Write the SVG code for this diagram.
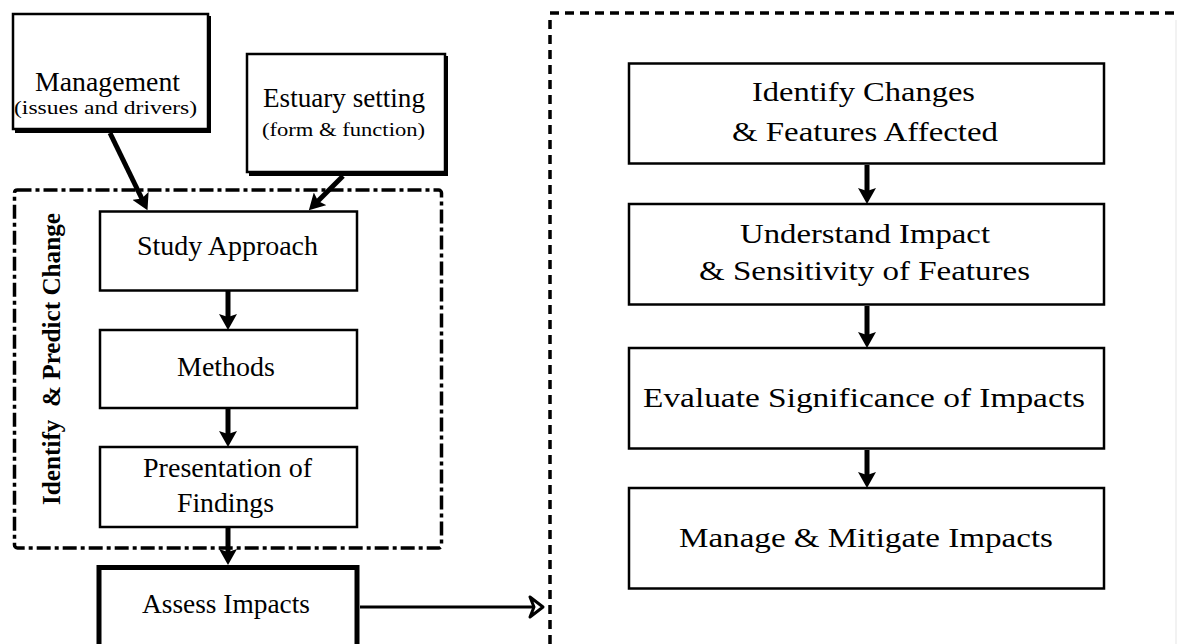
<svg xmlns="http://www.w3.org/2000/svg" width="1177" height="644" viewBox="0 0 1177 644">
<style>
.box{fill:#fff;stroke:#000;stroke-width:2.5}
.shadow{fill:none;stroke:#000;stroke-width:4}
.t{font-family:"Liberation Serif","Times New Roman",serif;font-size:27px;fill:#000;text-anchor:middle}
.s{font-size:18px}
.lbl{font-family:"Liberation Serif","Times New Roman",serif;font-weight:bold;font-size:26px;fill:#000;text-anchor:middle;white-space:pre}
.conn{fill:none;stroke:#000;stroke-width:5}
</style>
<defs>
<marker id="ah" viewBox="0 0 16 18" refX="8" refY="9" markerWidth="16" markerHeight="18" orient="auto" markerUnits="userSpaceOnUse">
<path d="M0,0 L16,9 L0,18 L3,9 z" fill="#000"/>
</marker>
</defs>
<rect width="1177" height="644" fill="#fff"/>

<g id="container-identify">
<rect x="14.5" y="190" width="427" height="358" rx="3" fill="none" stroke="#000" stroke-width="3.5" stroke-dasharray="14 4 4 4"/>
<text class="lbl" transform="translate(60,359) rotate(-90)" textLength="292" lengthAdjust="spacingAndGlyphs">Identify  &amp; Predict Change</text>
</g>

<g id="container-assess">
<path d="M550,13 H1177 M550,20 V644" fill="none" stroke="#000" stroke-width="3.5" stroke-dasharray="9 6"/>
<path d="M1176,20 V644" fill="none" stroke="#eeeeee" stroke-width="1.5"/>
</g>

<g id="node-management">
<rect class="box" x="13" y="14" width="195" height="115"/>
<path class="shadow" d="M209,16 V131 H15"/>
<text class="t" x="107.5" y="91" textLength="145" lengthAdjust="spacingAndGlyphs">Management</text>
<text class="t s" x="105.5" y="114" textLength="183" lengthAdjust="spacingAndGlyphs">(issues and drivers)</text>
</g>

<g id="node-estuary">
<rect class="box" x="247" y="54" width="198" height="118"/>
<path class="shadow" d="M446,56 V174 H249"/>
<text class="t" x="344" y="107" textLength="162" lengthAdjust="spacingAndGlyphs">Estuary setting</text>
<text class="t s" x="343.5" y="136" font-size="20" textLength="163" lengthAdjust="spacingAndGlyphs">(form &amp; function)</text>
</g>

<g id="node-study">
<rect class="box" x="100" y="211.5" width="257" height="79"/>
<text class="t" x="227.5" y="255" textLength="181" lengthAdjust="spacingAndGlyphs">Study Approach</text>
</g>

<g id="node-methods">
<rect class="box" x="100" y="330" width="257" height="78"/>
<text class="t" x="226" y="376" textLength="98" lengthAdjust="spacingAndGlyphs">Methods</text>
</g>

<g id="node-presentation">
<rect class="box" x="100" y="447" width="257" height="80"/>
<text class="t" x="227.5" y="477" textLength="169" lengthAdjust="spacingAndGlyphs">Presentation of</text>
<text class="t" x="225.5" y="512" textLength="97" lengthAdjust="spacingAndGlyphs">Findings</text>
</g>

<g id="node-assess">
<rect x="99" y="567.5" width="258" height="90" fill="#fff" stroke="#000" stroke-width="5"/>
<text class="t" x="226" y="613" textLength="168" lengthAdjust="spacingAndGlyphs">Assess Impacts</text>
</g>

<g id="node-identify-changes">
<rect class="box" x="629" y="63.5" width="475" height="100"/>
<text class="t" x="863.5" y="101" textLength="223" lengthAdjust="spacingAndGlyphs">Identify Changes</text>
<text class="t" x="865" y="141" textLength="266" lengthAdjust="spacingAndGlyphs">&amp; Features Affected</text>
</g>

<g id="node-understand">
<rect class="box" x="629" y="204" width="475" height="100.5"/>
<text class="t" x="865" y="243" textLength="250" lengthAdjust="spacingAndGlyphs">Understand Impact</text>
<text class="t" x="864.5" y="280" textLength="331" lengthAdjust="spacingAndGlyphs">&amp; Sensitivity of Features</text>
</g>

<g id="node-evaluate">
<rect class="box" x="629" y="348" width="475" height="100.5"/>
<text class="t" x="864" y="407" textLength="442" lengthAdjust="spacingAndGlyphs">Evaluate Significance of Impacts</text>
</g>

<g id="node-manage">
<rect class="box" x="629" y="488" width="475" height="100.5"/>
<text class="t" x="866" y="547" textLength="374" lengthAdjust="spacingAndGlyphs">Manage &amp; Mitigate Impacts</text>
</g>

<g id="connectors">
<path class="conn" d="M110,133 L144,203" marker-end="url(#ah)"/>
<path class="conn" d="M343,176 L314.5,204.5" marker-end="url(#ah)"/>
<path class="conn" d="M228,291 V322" marker-end="url(#ah)"/>
<path class="conn" d="M228,409 V439" marker-end="url(#ah)"/>
<path class="conn" d="M228,528 V557" marker-end="url(#ah)"/>
<path class="conn" d="M867,165 V196" marker-end="url(#ah)"/>
<path class="conn" d="M867,306 V340" marker-end="url(#ah)"/>
<path class="conn" d="M867,450 V480" marker-end="url(#ah)"/>
<path d="M360,607 H534" fill="none" stroke="#000" stroke-width="3"/>
<path d="M530,597 L543,607 L530,617 L534,607 z" fill="#fff" stroke="#000" stroke-width="3" stroke-linejoin="round"/>
</g>
</svg>
